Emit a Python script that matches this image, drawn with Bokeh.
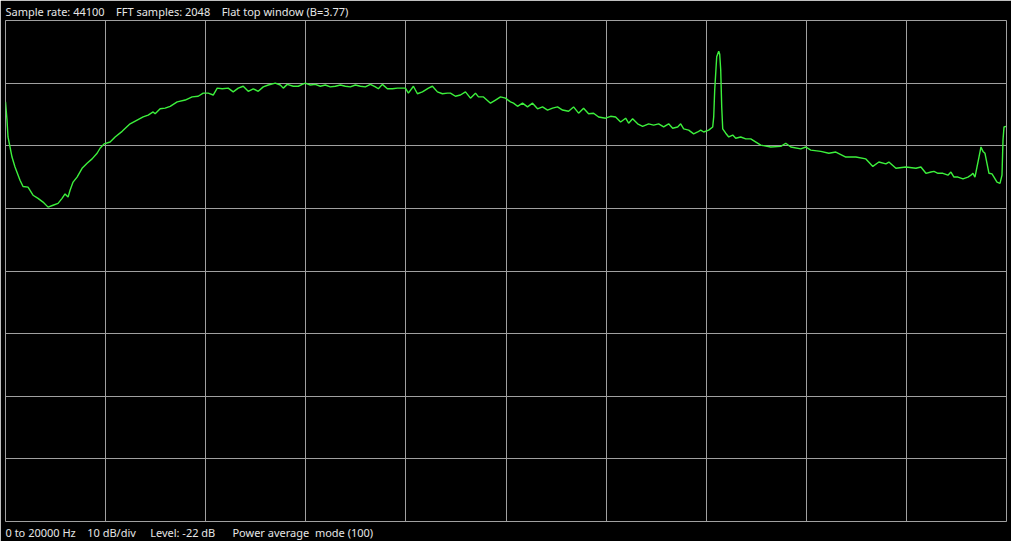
from bokeh.plotting import figure
from bokeh.models import Title, FixedTicker, Range1d
from bokeh.embed import file_html
from bokeh.resources import INLINE

# Spectrum trace: frequency (Hz) and level (dB, 0 = top line, 10 dB/div)
freq_hz = [
    0, 30, 50, 90, 130, 190, 290, 350, 450, 550, 650, 750, 850, 950, 1050, 1130, 1190, 1250, 1290, 1350,
    1430, 1530, 1630, 1730, 1830, 1890, 1970, 2090, 2190, 2330, 2490, 2630, 2750, 2850, 2950, 2990, 3090, 3190,
    3290, 3430, 3590, 3730, 3850, 3950, 4050, 4150, 4230, 4330, 4450, 4550, 4650, 4750, 4850, 4950, 5050, 5150,
    5250, 5390, 5490, 5550, 5630, 5750, 5850, 5930, 5990, 6090, 6190, 6290, 6390, 6490, 6590,
    6690, 6790, 6890, 6990, 7090, 7190, 7290, 7390, 7450, 7530, 7630, 7730, 7830, 7990, 8050, 8150, 8230, 8330,
    8450, 8530, 8630, 8730, 8830, 8890, 8990, 9090, 9190, 9290, 9390, 9450, 9550, 9690, 9790, 9890, 9990,
    10090, 10150, 10230, 10330, 10430, 10530, 10630, 10730, 10830, 10930, 11030, 11130, 11250, 11350, 11450,
    11550, 11650, 11750, 11850, 11990, 12090, 12190, 12290, 12390, 12450, 12530, 12630, 12730, 12850, 12950,
    13050, 13150, 13250, 13330, 13430, 13490, 13550, 13650,
    13750, 13830, 13890, 13950, 14050, 14130, 14150, 14170, 14210, 14250, 14270, 14290, 14310, 14330, 14390,
    14450, 14530, 14590, 14690, 14790, 14890,
    15090, 15290, 15490, 15590, 15690, 15890, 15990, 16090, 16290, 16450, 16590, 16790, 16990, 17190, 17330,
    17450, 17590, 17650, 17790, 17990, 18190, 18290, 18390,
    18490, 18550, 18630, 18730, 18830, 18890, 18950, 19030, 19130, 19230, 19290, 19330, 19370, 19410, 19450,
    19490, 19530, 19570, 19610, 19650, 19710, 19750, 19810, 19870, 19910, 19930, 19950, 19990,
]
level_db = [
    -13.0, -15.9, -18.6, -20.2, -21.8, -23.4, -25.5, -26.5, -26.6, -27.9, -28.4, -29.0, -29.8, -29.5, -29.2, -28.4, -27.7, -28.2, -27.1, -25.8,
    -25.0, -23.6, -22.8, -22.1, -21.2, -20.4, -19.7, -19.4, -18.6, -17.7, -16.5, -15.9, -15.4, -15.1, -14.6, -14.9, -14.1, -14.0,
    -13.7, -13.0, -12.7, -12.2, -12.1, -11.6, -11.6, -11.9, -10.8, -10.9, -10.8, -11.4, -10.8, -10.5, -11.3, -10.9, -11.3, -10.6,
    -10.3, -10.0, -10.3, -10.8, -10.2, -10.5, -10.5, -10.2, -10.0, -10.3, -10.2, -10.5, -10.3, -10.6, -10.5,
    -10.3, -10.5, -10.6, -10.3, -10.5, -10.6, -10.2, -10.6, -10.9, -10.2, -10.9, -10.9, -10.8, -10.8, -11.6, -10.5, -11.7, -11.4,
    -10.8, -10.5, -11.4, -11.7, -11.6, -11.6, -12.1, -11.9, -11.4, -12.4, -11.6, -12.2, -12.2, -13.2, -12.7, -12.2, -12.4,
    -13.0, -13.2, -13.7, -13.2, -13.8, -13.2, -14.1, -13.8, -14.3, -14.0, -13.8, -14.3, -14.5, -13.8, -14.8,
    -14.0, -14.9, -14.8, -15.4, -15.6, -15.3, -15.4, -16.2, -15.6, -16.4, -15.7, -16.5, -16.9, -16.5, -16.7,
    -16.5, -17.0, -16.5, -17.2, -17.0, -16.5, -17.3, -17.5,
    -18.1, -17.8, -17.5, -17.8, -17.5, -17.0, -15.4, -11.1, -5.8, -4.9, -5.4, -7.9, -13.8, -17.3, -18.0,
    -18.6, -18.3, -18.8, -18.6, -18.9, -18.9,
    -19.9, -20.2, -20.1, -19.6, -20.2, -20.5, -20.2, -20.7, -20.9, -21.2, -21.0, -21.8, -21.8, -22.1, -23.3,
    -22.6, -22.9, -22.6, -23.6, -23.4, -23.6, -23.4, -24.4,
    -24.2, -24.1, -24.4, -24.4, -24.7, -24.2, -25.0, -25.0, -25.3, -25.0, -24.7, -24.4, -25.0, -23.4, -21.8,
    -20.2, -20.9, -21.2, -22.8, -24.4, -24.5, -25.0, -25.8, -26.0, -24.7, -19.1, -17.0, -16.9,
]

x_grid_ticks = [0, 2000, 4000, 6000, 8000, 10000, 12000, 14000, 16000, 18000, 20000]
y_grid_ticks = [0, -10, -20, -30, -40, -50, -60, -70, -80]

top_texts = ["Sample rate: 44100", "FFT samples: 2048", "Flat top window (B=3.77)"]
bottom_texts = ["0 to 20000 Hz", "10 dB/div", "Level: -22 dB", "Power average\u00a0 mode (100)"]

NB = "\u00a0"
top_line = (NB * 4).join(top_texts)
bottom_line = (bottom_texts[0] + NB * 4 + bottom_texts[1] + NB * 5
               + bottom_texts[2] + NB * 6 + bottom_texts[3])

p = figure(
    width=1011, height=541,
    output_backend="svg", toolbar_location=None,
    x_range=Range1d(0, 20000), y_range=Range1d(-80, 0),
    x_axis_location=None, y_axis_location=None,
    min_border_left=5, min_border_right=5, min_border_top=20, min_border_bottom=20,
    background_fill_color="black", border_fill_color="black",
)
p.title = None
p.outline_line_color = "#a0a0a0"
p.outline_line_width = 1

p.xgrid.ticker = FixedTicker(ticks=x_grid_ticks)
p.ygrid.ticker = FixedTicker(ticks=y_grid_ticks)
for g in (p.xgrid, p.ygrid):
    g.grid_line_color = "#a0a0a0"
    g.grid_line_width = 1
    g.grid_line_alpha = 1.0

p.line(freq_hz, level_db, line_color="#3cf03c", line_width=1.4)

font = "Noto Sans"
p.add_layout(Title(text=top_line, align="left", offset=0, standoff=0,
                   vertical_align="top",
                   text_color="#e6e6e6", text_font=font, text_font_size="11px",
                   text_font_style="normal"), "above")
p.add_layout(Title(text=bottom_line, align="left", offset=0, standoff=2,
                   text_color="#e6e6e6", text_font=font, text_font_size="11px",
                   text_font_style="normal"), "below")

open("out.html", "w").write(file_html(p, INLINE))
